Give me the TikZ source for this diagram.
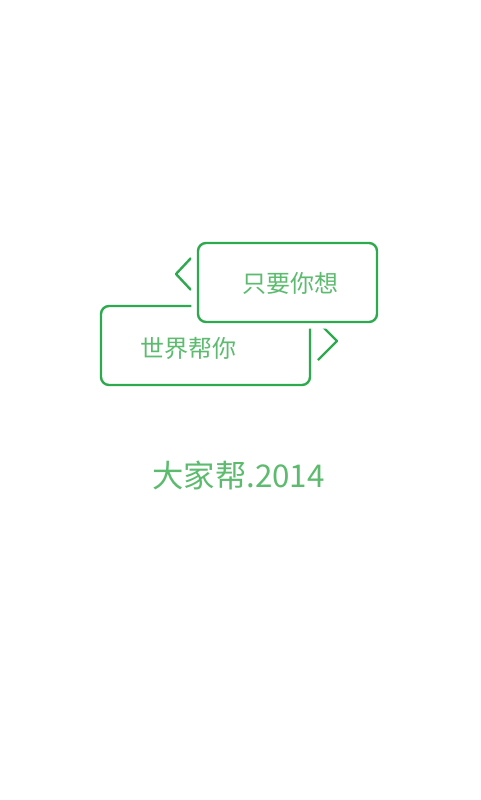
\documentclass[tikz,border=0pt]{standalone}
\usepackage{fontspec}
\setmainfont{Noto Sans CJK SC}
\usetikzlibrary{positioning}
\definecolor{boxgreen}{HTML}{2EAA4E}
\definecolor{textgreen}{HTML}{5CBB6E}

\begin{document}
\begin{tikzpicture}[x=0.75pt,y=-0.75pt,line join=round,
    bubble/.style={draw=boxgreen,line width=1.8pt,rounded corners=6pt,inner sep=0pt},
    halo/.style={fill=white,preaction={draw=white,line width=10pt}},
    chevron/.style={draw=boxgreen,line width=1.8pt},
    caption/.style={text=textgreen,font=\fontsize{18pt}{18pt}\selectfont,inner sep=0pt}]
  \useasboundingbox[fill=white] (0,0) rectangle (480,800);

  % lower bubble, partly behind the upper one
  \node[bubble,minimum width=156.75pt,minimum height=59.25pt] (lower) at (205.5,345.5) {};
  \draw[chevron] (318,322) -- (337,341) -- (318,360);
  \node[caption] (lowertext) at (188,348) {世界帮你};

  % upper bubble
  \draw[chevron] (191,258) -- (176,274) -- (191,290);
  \node[bubble,halo,minimum width=134.25pt,minimum height=59.25pt] (upper) at (287.5,282.5) {};
  \node[caption] (uppertext) at (290,283) {只要你想};

  \node[text=textgreen,font=\fontsize{23.5pt}{23.5pt}\selectfont,inner sep=0pt] (brand) at (238.5,475) {大家帮.2014};
\end{tikzpicture}
\end{document}
